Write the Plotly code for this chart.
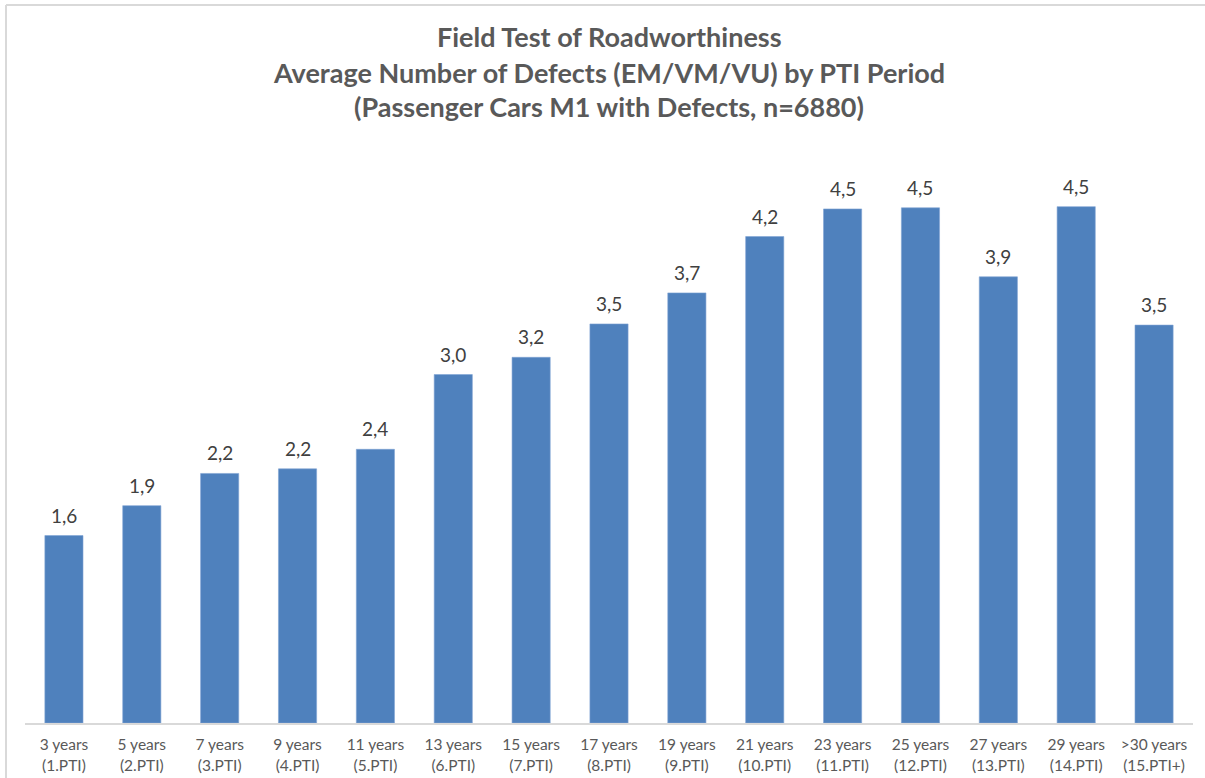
import plotly.graph_objects as go

categories = [
    "3 years<br>(1.PTI)", "5 years<br>(2.PTI)", "7 years<br>(3.PTI)", "9 years<br>(4.PTI)",
    "11 years<br>(5.PTI)", "13 years<br>(6.PTI)", "15 years<br>(7.PTI)", "17 years<br>(8.PTI)",
    "19 years<br>(9.PTI)", "21 years<br>(10.PTI)", "23 years<br>(11.PTI)", "25 years<br>(12.PTI)",
    "27 years<br>(13.PTI)", "29 years<br>(14.PTI)", ">30 years<br>(15.PTI+)",
]
avg_defects = [1.63, 1.89, 2.17, 2.21, 2.38, 3.03, 3.18, 3.47, 3.74, 4.23, 4.47, 4.48, 3.88, 4.49, 3.46]

title_lines = [
    "Field Test of Roadworthiness",
    "Average Number of Defects (EM/VM/VU) by PTI Period",
    "(Passenger Cars M1 with Defects, n=6880)",
]

W, H = 1205, 778
L, R, T, B = 25, 12, 148, 55
plot_h = H - T - B
plot_w = W - L - R

def py(p):
    return (H - B - p) / plot_h

def px(p):
    return (p - L) / plot_w

FONT = "Lato, Carlito, Calibri, sans-serif"

fig = go.Figure()
fig.add_trace(go.Bar(
    x=categories, y=avg_defects,
    marker=dict(color="#4F81BD", line=dict(color="#7FA3D3", width=0.6)),
    hoverinfo="skip",
))

annotations = []
for cat, val in zip(categories, avg_defects):
    annotations.append(dict(
        x=cat, y=val, xref="x", yref="y",
        text=f"{val:.1f}".replace(".", ","),
        showarrow=False, yanchor="bottom", xanchor="center", yshift=7,
        font=dict(family=FONT, size=19, color="#404040"),
    ))
for line, ypix in zip(title_lines, [37, 72, 106]):
    annotations.append(dict(
        text="<b>" + line + "</b>", x=px(609), y=py(ypix), xref="paper", yref="paper",
        xanchor="center", yanchor="middle", showarrow=False,
        font=dict(family=FONT, size=27, color="#595959"),
    ))

border = dict(color="#d9d9d9", width=2)
fig.update_layout(
    width=W, height=H,
    margin=dict(l=L, r=R, t=T, b=B, autoexpand=False),
    paper_bgcolor="white", plot_bgcolor="white",
    separators=", ",
    bargap=0.51,
    showlegend=False,
    annotations=annotations,
    shapes=[
        dict(type="line", xref="paper", yref="paper",
             x0=px(6), x1=px(W), y0=py(5), y1=py(5), line=border, layer="below"),
        dict(type="line", xref="paper", yref="paper",
             x0=px(6), x1=px(6), y0=py(5), y1=py(H), line=border, layer="below"),
    ],
    xaxis=dict(
        showline=True, linecolor="#d9d9d9", linewidth=1.5, ticks="",
        tickfont=dict(family=FONT, size=15.5, color="#595959"),
        ticklabelstandoff=7, showgrid=False, automargin=False,
    ),
    yaxis=dict(range=[0, 5], visible=False, showgrid=False, zeroline=False, automargin=False),
)

fig.write_html(
    "out.html",
    config={"displayModeBar": False},
    post_script="document.body.style.margin='0';document.body.style.overflow='hidden';",
)
